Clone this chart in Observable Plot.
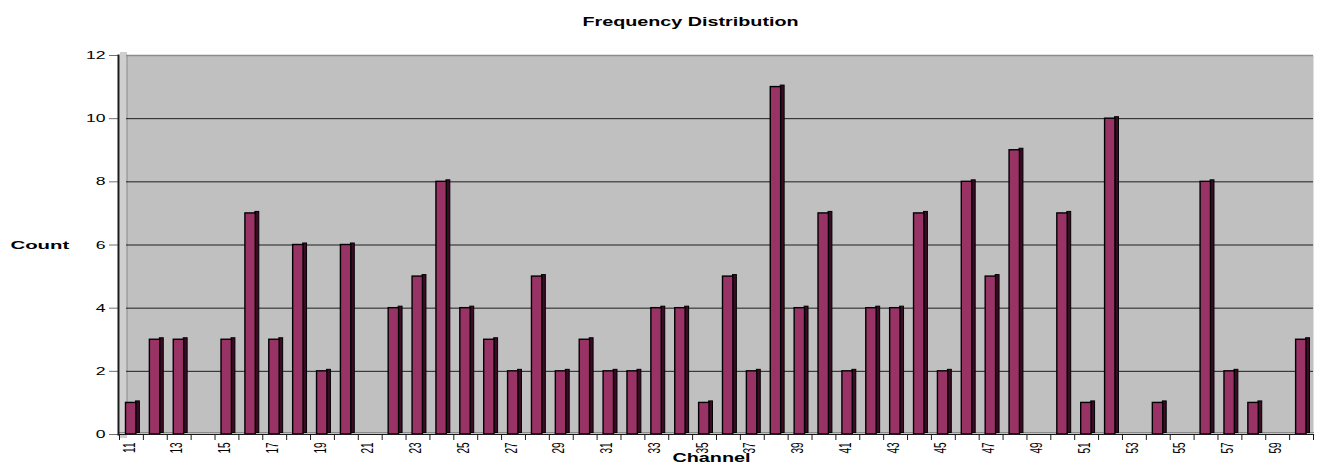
<!DOCTYPE html>
<html>
<head>
<meta charset="utf-8">
<script src="https://cdn.jsdelivr.net/npm/d3@7"></script>
<script src="https://cdn.jsdelivr.net/npm/@observablehq/plot@0.6"></script>
<style>
  html, body { margin: 0; padding: 0; background: #ffffff; }
  #chart svg { display: block; }
</style>
</head>
<body>
<div id="chart"></div>
<script>
const channels = [11,12,13,14,15,16,17,18,19,20,21,22,23,24,25,26,27,28,29,30,31,32,33,34,35,36,37,38,39,40,41,42,43,44,45,46,47,48,49,50,51,52,53,54,55,56,57,58,59,60];
const counts   = [1,3,3,0,3,7,3,6,2,6, 0,4,5,8,4,3,2,5,2,3, 2,2,4,4,1,5,2,11,4,7, 2,4,4,7,2,8,5,9,0,7, 1,10,0,1,0,8,2,1,0,3];
const xTickLabels = [11,13,15,17,19,21,23,25,27,29,31,33,35,37,39,41,43,45,47,49,51,53,55,57,59];
const yTicks = [0,2,4,6,8,10,12];
const gridValues = [2,4,6,8,10];
const titleText = "Frequency Distribution";
const yLabelText = "Count";
const xLabelText = "Channel";

const data = channels.map((c, i) => ({channel: c, count: counts[i]}));
const bars = data.filter(d => d.count > 0);

const W = 1318, H = 463, mL = 119, mR = 5, mT = 55, mB = 29;
const bw = (W - mL - mR) / channels.length;

const chart = Plot.plot({
  width: W, height: H,
  marginTop: mT, marginBottom: mB, marginLeft: mL, marginRight: mR,
  style: {fontFamily: "'Liberation Sans', Arial, sans-serif", background: "#ffffff", color: "#000"},
  x: {type: "band", domain: channels, padding: 0, axis: null},
  y: {domain: [0, 12], axis: null},
  marks: [
    Plot.frame({fill: "#C0C0C0", stroke: "none"}),
    Plot.frame({anchor: "left", stroke: "#cfcfcf", strokeWidth: 7, dx: 4}),
    Plot.frame({anchor: "left", stroke: "#8a8a8a", strokeWidth: 1, dx: 7.5}),
    Plot.ruleY(gridValues, {stroke: "#1e1e1e", strokeWidth: 1, insetLeft: 7}),
    Plot.ruleY([12], {stroke: "#8c8c8c", strokeWidth: 1.5, insetLeft: 7}),
    Plot.frame({anchor: "bottom", stroke: "#8a8a8a", strokeWidth: 1, dy: -2}),
    Plot.barY(bars, {x: "channel", y: "count", insetLeft: 16.5, insetRight: 3.5, dy: -1.5, fill: "#3a0b24", stroke: "#000", strokeWidth: 1}),
    Plot.barY(bars, {x: "channel", y: "count", insetLeft: 6.5, insetRight: 7, fill: "#993366", stroke: "#000", strokeWidth: 1.4}),
    Plot.axisY({ticks: yTicks, tickSize: 10, tickPadding: 4, fontSize: 11, label: null, stroke: "#707070"}),
    Plot.frame({anchor: "left", stroke: "#1a1a1a", strokeWidth: 2, dx: -1}),
    Plot.frame({anchor: "bottom", stroke: "#1a1a1a", strokeWidth: 1.2}),
    Plot.axisX({ticks: channels, tickSize: 6, text: null, dx: -bw / 2, stroke: "#1a1a1a", label: null}),
    Plot.axisX({ticks: [channels[channels.length - 1]], tickSize: 6, text: null, dx: bw / 2, stroke: "#1a1a1a", label: null}),
    Plot.axisX({ticks: xTickLabels, tickSize: 0, tickPadding: 8, tickRotate: -90, fontSize: 10, dx: -2, label: null}),
    Plot.text([titleText], {frameAnchor: "top", dy: -38.5, dx: -26, fontWeight: "bold", fontSize: 13}),
    Plot.text([yLabelText], {frameAnchor: "left", textAnchor: "start", dx: -109, fontWeight: "bold", fontSize: 11}),
    Plot.text([xLabelText], {frameAnchor: "bottom", lineAnchor: "top", dy: 19, dx: -5, fontWeight: "bold", fontSize: 12})
  ]
});

document.getElementById("chart").appendChild(chart);

// The reference rendering stretches its text horizontally (screen x); mimic
// that by scaling each text about its anchor point in its parent's space.
function stretchText(el, s) {
  const t = el.getAttribute("transform") || "";
  let ax = parseFloat(el.getAttribute("x")) || 0, ay = parseFloat(el.getAttribute("y")) || 0;
  const m = t.match(/translate\(\s*([-\d.eE]+)[\s,]+([-\d.eE]+)\s*\)/);
  if (m) { ax = parseFloat(m[1]); ay = parseFloat(m[2]); }
  el.setAttribute("transform", `translate(${ax},${ay}) scale(${s},1) translate(${-ax},${-ay})${t ? " " + t : ""}`);
}
chart.querySelectorAll("text").forEach(el => {
  const s = el.textContent.trim();
  if (s === titleText) stretchText(el, 1.52);
  else if (s === yLabelText) stretchText(el, 1.85);
  else if (s === xLabelText) stretchText(el, 1.65);
  else if (/^\d+$/.test(s)) stretchText(el, 1.6);
});
</script>
</body>
</html>
